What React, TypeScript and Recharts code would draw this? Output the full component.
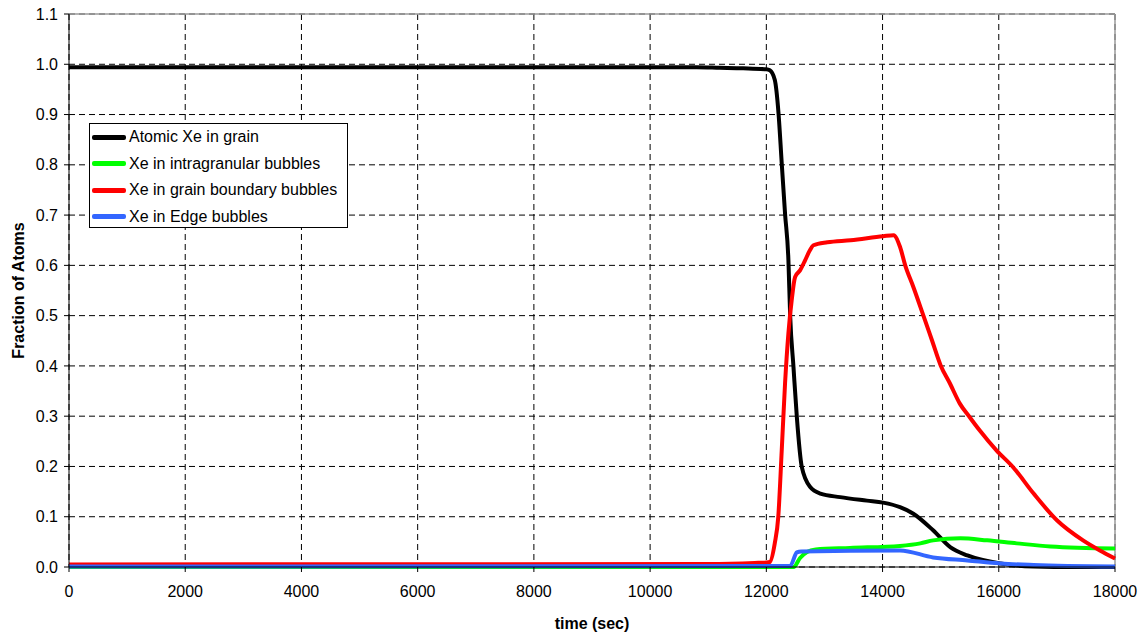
import { CartesianGrid, Label, Legend, Line, LineChart, ReferenceLine, XAxis, YAxis } from 'recharts'

// time (sec) / fraction pairs per xenon population
const atomicTime = [0, 6000, 10800, 11200, 11600, 12000, 12060, 12145, 12210, 12265, 12322, 12380, 12410, 12467, 12525, 12610, 12755, 12930, 13270, 13730, 14010, 14300, 14530, 14870, 15170, 15460, 16030, 16600, 17300, 18000]
const atomicFrac = [0.994, 0.994, 0.994, 0.993, 0.992, 0.99, 0.988, 0.969, 0.902, 0.803, 0.703, 0.61, 0.5, 0.398, 0.298, 0.199, 0.159, 0.146, 0.139, 0.132, 0.128, 0.119, 0.106, 0.073, 0.039, 0.023, 0.007, 0.001, 0.0, 0.0]

const intraTime = [0, 12470, 12580, 12700, 12850, 13440, 14300, 14650, 14870, 15340, 15800, 16310, 16890, 18000]
const intraFrac = [0, 0, 0.018, 0.03, 0.035, 0.038, 0.042, 0.047, 0.053, 0.057, 0.053, 0.047, 0.041, 0.037]

const boundaryTime = [0, 11000, 11800, 12000, 12060, 12145, 12205, 12265, 12322, 12380, 12437, 12495, 12580, 12667, 12750, 12810, 13050, 13450, 14010, 14190, 14300, 14390, 14530, 14700, 14850, 15000, 15160, 15330, 15500, 15670, 15960, 16250, 16600, 17000, 17450, 17740, 18000]
const boundaryFrac = [0.005, 0.006, 0.008, 0.009, 0.01, 0.047, 0.099, 0.232, 0.365, 0.465, 0.531, 0.577, 0.59, 0.61, 0.63, 0.64, 0.646, 0.65, 0.658, 0.66, 0.637, 0.6, 0.557, 0.501, 0.451, 0.401, 0.365, 0.325, 0.298, 0.272, 0.232, 0.198, 0.146, 0.093, 0.053, 0.033, 0.017]

const edgeTime = [0, 12410, 12525, 12600, 14300, 14870, 15460, 16030, 16600, 18000]
const edgeFrac = [0.001, 0.002, 0.029, 0.031, 0.033, 0.019, 0.013, 0.007, 0.004, 0.001]

const timeTicks = [0, 2000, 4000, 6000, 8000, 10000, 12000, 14000, 16000, 18000]
const fractionTicks = [0, 0.1, 0.2, 0.3, 0.4, 0.5, 0.6, 0.7, 0.8, 0.9, 1.0, 1.1]

const toPoints = (t: number[], v: number[]) => t.map((time, i) => ({ t: time, v: v[i] }))

const series = [
  { name: 'Atomic Xe in grain', color: '#000000', data: toPoints(atomicTime, atomicFrac) },
  { name: 'Xe in intragranular bubbles', color: '#00FF00', data: toPoints(intraTime, intraFrac) },
  { name: 'Xe in grain boundary bubbles', color: '#FF0000', data: toPoints(boundaryTime, boundaryFrac) },
  { name: 'Xe in Edge bubbles', color: '#3366FF', data: toPoints(edgeTime, edgeFrac) },
]

const FONT = '"Liberation Sans", Arial, sans-serif'

function LegendBox({ payload }: any) {
  // keep entries in series order rather than alphabetical
  const items = [...(payload || [])].sort(
    (a: any, b: any) => series.findIndex((s) => s.name === a.value) - series.findIndex((s) => s.name === b.value),
  )
  return (
    <div
      style={{
        border: '1px solid #000',
        background: '#fff',
        width: 259,
        height: 105,
        boxSizing: 'border-box',
        fontFamily: FONT,
        fontSize: 16,
        color: '#000',
      }}
    >
      {items.map((item: any) => (
        <div key={item.value} style={{ display: 'flex', alignItems: 'center', height: 26.5 }}>
          <span style={{ display: 'inline-block', width: 34, height: 5, marginLeft: 2, marginRight: 3, background: item.color, borderRadius: 2 }} />
          <span>{item.value}</span>
        </div>
      ))}
    </div>
  )
}

export default function App() {
  return (
    <div style={{ position: 'absolute', left: 0, top: 0, background: '#fff' }}>
      <LineChart width={1143} height={635} margin={{ top: 14, right: 28, left: 0, bottom: 6 }}>
        <CartesianGrid stroke="#000" strokeDasharray="6 4" />
        <XAxis
          type="number"
          dataKey="t"
          domain={[0, 18000]}
          ticks={timeTicks}
          allowDuplicatedCategory={false}
          height={62}
          tickSize={5}
          tickMargin={14}
          stroke="#000"
          tick={{ fill: '#000', fontSize: 16, fontFamily: FONT }}
        >
          <Label value="time (sec)" position="insideBottom" offset={0} style={{ fontWeight: 'bold', fontSize: 16, fontFamily: FONT, fill: '#000' }} />
        </XAxis>
        <YAxis
          type="number"
          domain={[0, 1.1]}
          ticks={fractionTicks}
          width={69}
          tickSize={5}
          tickMargin={6}
          stroke="#000"
          tickFormatter={(v: number) => v.toFixed(1)}
          tick={{ fill: '#000', fontSize: 16, fontFamily: FONT }}
        >
          <Label
            value="Fraction of Atoms"
            angle={-90}
            position="insideLeft"
            offset={18}
            style={{ textAnchor: 'middle', fontWeight: 'bold', fontSize: 16, fontFamily: FONT, fill: '#000' }}
          />
        </YAxis>
        <ReferenceLine y={1.1} stroke="#9a9a9a" strokeWidth={1.5} />
        <ReferenceLine x={18000} stroke="#9a9a9a" strokeWidth={1.5} />
        <Legend
          layout="horizontal"
          verticalAlign="middle"
          align="center"
          itemSorter={null as any}
          content={<LegendBox />}
          wrapperStyle={{ left: 89, top: 123, width: 259, height: 105 }}
        />
        {series.map((s) => (
          <Line
            key={s.name}
            name={s.name}
            data={s.data}
            dataKey="v"
            type="monotone"
            stroke={s.color}
            strokeWidth={4}
            dot={false}
            activeDot={false}
            isAnimationActive={false}
          />
        ))}
      </LineChart>
    </div>
  )
}
